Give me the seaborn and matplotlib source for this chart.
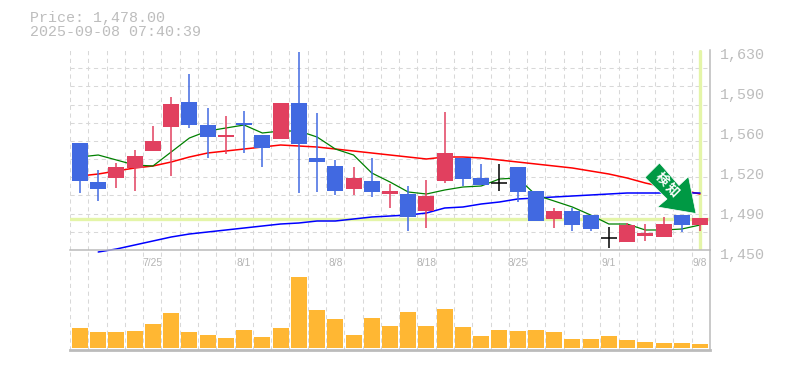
import matplotlib
matplotlib.use('Agg')
import numpy as np
import pandas as pd
import matplotlib.pyplot as plt
import seaborn as sns
from matplotlib.patches import Polygon
from matplotlib.transforms import Affine2D, ScaledTranslation

# 日足データ
opens = [1546.3, 1511.2, 1514.8, 1523.8, 1539.1, 1560.7, 1583.2, 1562.5, 1551.7, 1564.3, 1553.5, 1549.9,
         1582.3, 1532.8, 1525.6, 1504.9, 1512.1, 1500.4, 1500.4, 1485.1, 1512.1, 1532.8, 1514.8, 1510.3,
         1524.7, 1503.1, 1477.9, 1485.1, 1481.5, 1460.8, 1457.2, 1462.6, 1461.7, 1481.5, 1472.5]
closes = [1512.1, 1504.9, 1524.7, 1534.6, 1548.1, 1581.4, 1562.5, 1551.7, 1553.5, 1562.5, 1541.8, 1582.3,
          1545.4, 1529.2, 1503.1, 1514.8, 1502.2, 1503.1, 1479.7, 1498.6, 1537.3, 1513.9, 1508.5, 1510.3,
          1502.2, 1476.1, 1485.1, 1472.5, 1468.9, 1460.8, 1472.5, 1465.3, 1473.4, 1472.5, 1478.8]
highs = [1546.3, 1522.0, 1528.3, 1540.0, 1561.6, 1587.7, 1608.4, 1577.8, 1570.6, 1575.1, 1553.5, 1582.3,
         1628.2, 1573.3, 1531.0, 1524.7, 1532.8, 1509.4, 1507.6, 1513.0, 1574.2, 1532.8, 1527.4, 1527.4,
         1524.7, 1503.1, 1487.8, 1487.8, 1481.5, 1470.7, 1474.3, 1473.4, 1479.7, 1481.5, 1478.8]
lows = [1501.3, 1494.1, 1505.8, 1503.1, 1539.1, 1516.6, 1559.8, 1532.8, 1536.4, 1537.3, 1524.7, 1549.9,
        1501.3, 1502.2, 1499.5, 1499.5, 1497.7, 1487.8, 1467.1, 1469.8, 1510.3, 1507.6, 1508.5, 1503.1,
        1493.2, 1476.1, 1469.8, 1467.1, 1467.1, 1451.8, 1457.2, 1458.1, 1461.7, 1466.2, 1467.1]
volumes = [20, 16, 16, 17, 24, 35, 16, 13, 10, 18, 11, 20, 71, 38, 29, 13, 30, 22, 36, 22, 39, 21, 12, 18,
           17, 18, 16, 9, 9, 12, 8, 6, 5, 5, 4]

ma_short = [1533.7, 1535.5, 1531.0, 1526.5, 1525.6, 1538.2, 1550.8, 1557.1, 1559.8, 1562.5, 1555.3, 1557.1,
            1557.1, 1551.7, 1540.9, 1535.5, 1519.3, 1511.2, 1502.2, 1500.4, 1504.0, 1506.7, 1507.6, 1513.9,
            1514.8, 1499.5, 1494.1, 1488.7, 1481.5, 1473.4, 1473.4, 1468.0, 1468.0, 1468.9, 1472.5]
ma_mid = [1516.6, 1518.4, 1521.1, 1523.8, 1525.6, 1529.2, 1533.7, 1537.3, 1539.1, 1540.9, 1542.7, 1544.5,
          1543.6, 1542.7, 1540.9, 1539.1, 1537.3, 1535.5, 1533.7, 1531.9, 1533.7, 1533.7, 1532.8, 1531.0,
          1529.2, 1527.4, 1525.6, 1523.8, 1521.1, 1518.4, 1514.8, 1510.3, 1506.7, 1504.0, 1500.4]
ma_long = [np.nan, 1448.2, 1450.9, 1454.5, 1458.1, 1461.7, 1464.4, 1466.2, 1468.0, 1469.8, 1471.6, 1473.4,
           1474.3, 1476.1, 1476.1, 1477.9, 1479.7, 1480.6, 1481.5, 1483.3, 1487.8, 1488.7, 1491.4, 1493.2,
           1495.9, 1496.8, 1497.7, 1498.6, 1499.5, 1500.4, 1501.3, 1501.3, 1501.3, 1501.3, 1501.3]

y_ticks = [1630, 1594, 1558, 1522, 1486, 1450]
y_labels = ['1,630', '1,590', '1,560', '1,520', '1,490', '1,450']
date_pos = [4, 9, 14, 19, 24, 29, 34]
date_labels = ['7/25', '8/1', '8/8', '8/18', '8/25', '9/1', '9/8']
last_price = 1478
title_lines = ['Price: 1,478.00', '2025-09-08 07:40:39']

UP = '#E1405F'
DOWN = '#4169E1'
DOJI = '#000000'
GRID = '#D8D8D8'
AXIS = '#BBBBBB'
TEXT = '#BDBDBD'
MARK = '#E4F5A8'
VOL = '#FFB733'
W, H = 785, 370
DASH = (0, (4, 3.5))

df = pd.DataFrame({'open': opens, 'close': closes, 'high': highs, 'low': lows, 'volume': volumes,
                   'ma_short': ma_short, 'ma_mid': ma_mid, 'ma_long': ma_long})
df['x'] = df.index

sns.set_style('white')
plt.rcParams['font.family'] = ['Liberation Mono', 'DejaVu Sans']

fig = plt.figure(figsize=(W / 100, H / 100), dpi=100)
ax = fig.add_axes([70 / W, 1 - 250 / H, 640 / W, 200 / H])
ax_v = fig.add_axes([70 / W, 1 - 350 / H, 640 / W, 100 / H], sharex=ax)
ax_v.patch.set_alpha(0)

x0, x1 = -0.548, 34.548
ax.set_ylim(1450, 1630)
ax_v.set_ylim(-2, 98)

# 現在値のハイライト
ax.axhline(last_price, color=MARK, lw=2.4, zorder=1.5)
ax.axvline(df['x'].iloc[-1], color=MARK, lw=2.4, zorder=1.5, ymin=0.005, ymax=0.995)

# 移動平均線
sns.lineplot(data=df, x='x', y='ma_mid', ax=ax, color='#FF0000', lw=1.1, zorder=2, errorbar=None)
sns.lineplot(data=df, x='x', y='ma_long', ax=ax, color='#0000FF', lw=1.1, zorder=2, errorbar=None, clip_on=False)
sns.lineplot(data=df, x='x', y='ma_short', ax=ax, color='#008000', lw=0.9, zorder=2, errorbar=None)

# ローソク足
colors = [DOJI if c == o else (UP if c > o else DOWN) for o, c in zip(opens, closes)]
ax.vlines(df['x'], df['low'], df['high'], colors=colors, lw=1.1, zorder=3)
ax.bar(df['x'], df['close'] - df['open'], bottom=df['open'], width=0.88, color=colors, lw=0, zorder=4)
doji = df[df['close'] == df['open']]
ax.hlines(doji['close'], doji['x'] - 0.44, doji['x'] + 0.44, colors=DOJI, lw=1.1, zorder=4)

# 出来高
sns.barplot(x=df['x'], y=df['volume'], ax=ax_v, native_scale=True, color=VOL, saturation=1, width=0.88,
            linewidth=0, zorder=3)

for a in [ax, ax_v]:
    for s in ['top', 'left', 'bottom']:
        a.spines[s].set_visible(False)
    a.spines['right'].set_color(AXIS)
    a.spines['right'].set_linewidth(1.1)
    a.set_xlabel('')
    a.set_ylabel('')
    a.set_axisbelow(True)
ax.set_xlim(x0, x1)
ax.spines['bottom'].set_visible(True)
ax.spines['bottom'].set_color(AXIS)
ax.spines['bottom'].set_linewidth(1.1)
ax_v.spines['bottom'].set_visible(True)
ax_v.spines['bottom'].set_color(AXIS)
ax_v.spines['bottom'].set_linewidth(2)

ax.set_xticks(date_pos)
ax.set_xticklabels(date_labels, fontsize=7.4, color='#B4B4B4', family='Liberation Sans')
ax.set_xticks(np.linspace(x0, x1, 36), minor=True)
ax.set_yticks(np.linspace(1450, 1630, 12), minor=True)
ax.grid(False, which='major')
ax_v.grid(False, which='major')
ax.grid(True, which='minor', color=GRID, lw=0.75, ls=DASH)
ax_v.grid(True, which='minor', axis='x', color=GRID, lw=0.75, ls=DASH)
ax.tick_params(axis='x', which='major', pad=6, length=0)
ax.tick_params(which='minor', length=0)
ax_v.tick_params(which='both', length=0, labelbottom=False)
ax_v.set_yticks([])

ax.yaxis.tick_right()
ax.set_yticks(y_ticks)
ax.set_yticklabels(y_labels, fontsize=10.8, color=TEXT)
ax.tick_params(axis='y', which='major', pad=7, length=0)
for lab in ax.get_yticklabels():
    lab.set_transform(lab.get_transform() + ScaledTranslation(0, -3 / 100, fig.dpi_scale_trans))

fig.text(30 / W, 1 - 18 / H, title_lines[0], fontsize=10.8, color=TEXT, va='center')
fig.text(30 / W, 1 - 32.5 / H, title_lines[1], fontsize=10.8, color=TEXT, va='center')

# シグナルの矢印(ピクセル座標、y は下向き)
px = Affine2D().scale(1, -1).translate(0, H)
arrow_shape = [(659.5, 163), (645, 177.5), (667, 199), (657.5, 207), (696, 213.5), (688.5, 176.5), (679, 185.5)]
fig.add_artist(Polygon(arrow_shape, closed=True, facecolor='#009944', edgecolor='white', lw=0.5, transform=px, zorder=10))
fig.text(661.7 / W, 1 - 179 / H, '検', fontsize=9.5, color='white', weight='bold', rotation=-45,
         family=['Noto Sans CJK JP', 'DejaVu Sans'], ha='center', va='center', zorder=11)
fig.text(672.3 / W, 1 - 190 / H, '知', fontsize=9.5, color='white', weight='bold', rotation=-45,
         family=['Noto Sans CJK JP', 'DejaVu Sans'], ha='center', va='center', zorder=11)

fig.savefig('out.png', dpi=100, facecolor='white')
